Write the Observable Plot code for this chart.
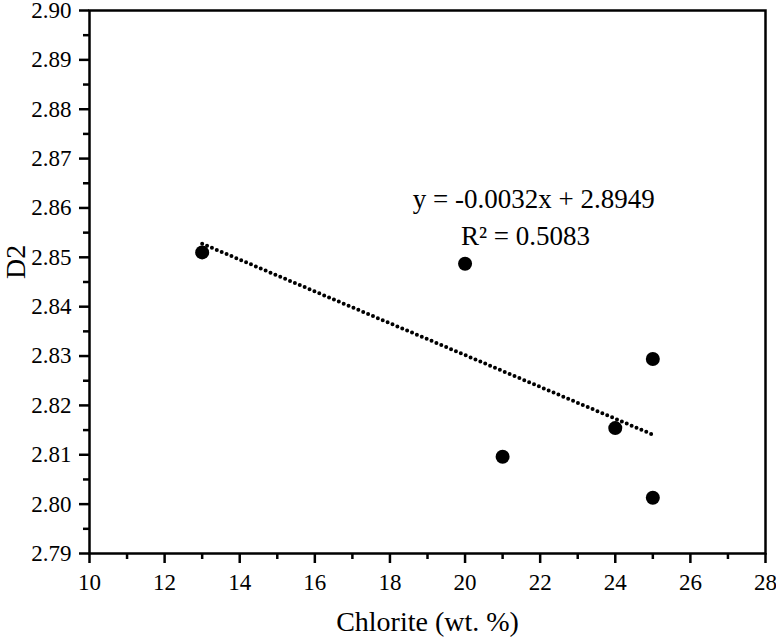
<!DOCTYPE html>
<html>
<head>
<meta charset="utf-8">
<script src="https://cdn.jsdelivr.net/npm/d3@7"></script>
<script src="https://cdn.jsdelivr.net/npm/@observablehq/plot@0.6"></script>
<style>
  html, body { margin: 0; padding: 0; background: #fff; }
  #chart { width: 776px; height: 638px; }
</style>
</head>
<body>
<div id="chart"></div>
<script>
// Data
const chlorite = [13, 20, 21, 24, 25, 25];
const d2 = [2.851, 2.8487, 2.8096, 2.8154, 2.8294, 2.8013];

// Tick values
const xTicks = [10, 12, 14, 16, 18, 20, 22, 24, 26, 28];
const xMinor = [11, 13, 15, 17, 19, 21, 23, 25, 27];
const yTicks = [2.79, 2.80, 2.81, 2.82, 2.83, 2.84, 2.85, 2.86, 2.87, 2.88, 2.89, 2.90];
const yMinor = [2.795, 2.805, 2.815, 2.825, 2.835, 2.845, 2.855, 2.865, 2.875, 2.885, 2.895];

// Labels
const xLabel = "Chlorite (wt. %)";
const yLabel = "D2";
const eqText = "y = -0.0032x + 2.8949";
const r2Text = "R\u00B2 = 0.5083";

const data = chlorite.map((x, i) => ({x, y: d2[i]}));
const serif = "'Liberation Serif', 'Times New Roman', serif";
const xMin = 10, yMin = 2.79;

const chart = Plot.plot({
  width: 776,
  height: 638,
  marginLeft: 89,
  marginRight: 11,
  marginTop: 10,
  marginBottom: 85,
  style: {fontFamily: serif, color: "black", background: "white", overflow: "visible"},
  x: {domain: [10, 28], axis: null},
  y: {domain: [2.79, 2.90], axis: null},
  marks: [
    Plot.frame({stroke: "black", strokeWidth: 2.5}),
    // x ticks
    Plot.ruleX(xTicks, {x: d => d, y1: yMin, y2: yMin, insetBottom: -10, stroke: "black", strokeWidth: 2.5}),
    Plot.ruleX(xMinor, {x: d => d, y1: yMin, y2: yMin, insetBottom: -6, stroke: "black", strokeWidth: 2.5}),
    Plot.text(xTicks, {x: d => d, y: yMin, dy: 29, text: d => String(d), fontSize: 23, fontFamily: serif, fill: "black", lineAnchor: "middle"}),
    // y ticks
    Plot.ruleY(yTicks, {y: d => d, x1: xMin, x2: xMin, insetLeft: -10, stroke: "black", strokeWidth: 2.5}),
    Plot.ruleY(yMinor, {y: d => d, x1: xMin, x2: xMin, insetLeft: -6, stroke: "black", strokeWidth: 2.5}),
    Plot.text(yTicks, {y: d => d, x: xMin, dx: -18, text: d => d3.format(".2f")(d), textAnchor: "end", fontSize: 23, fontFamily: serif, fill: "black", lineAnchor: "middle"}),
    // axis titles
    Plot.text([xLabel], {frameAnchor: "bottom", dy: 69, fontSize: 28, fontFamily: serif, fill: "black", lineAnchor: "middle"}),
    Plot.text([yLabel], {frameAnchor: "left", dx: -73, dy: -3, rotate: -90, fontSize: 28, fontFamily: serif, fill: "black", lineAnchor: "middle"}),
    // trendline and points
    Plot.linearRegressionY(data, {x: "x", y: "y", ci: 0, stroke: "black", strokeWidth: 4, strokeDasharray: "0,5.3", strokeLinecap: "round"}),
    Plot.dot(data, {x: "x", y: "y", r: 7, fill: "black", stroke: "none"}),
    // regression annotation
    Plot.text([eqText], {x: 18.61, y: 2.8617, textAnchor: "start", lineAnchor: "middle", fontSize: 27, fontFamily: serif, fill: "black"}),
    Plot.text([r2Text], {x: 19.89, y: 2.8542, textAnchor: "start", lineAnchor: "middle", fontSize: 27, fontFamily: serif, fill: "black"})
  ]
});
document.getElementById("chart").appendChild(chart);
</script>
</body>
</html>
